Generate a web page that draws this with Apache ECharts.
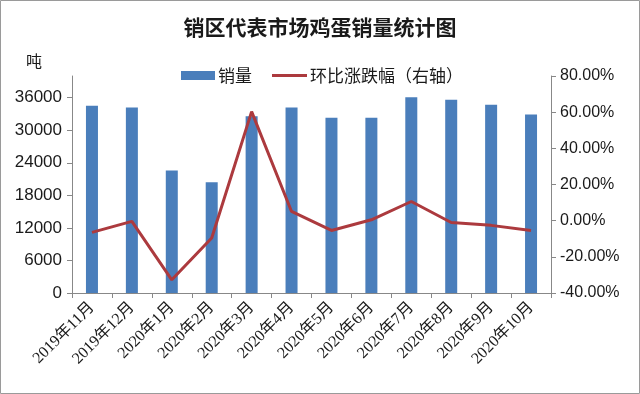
<!DOCTYPE html>
<html><head><meta charset="utf-8">
<script src="https://cdn.jsdelivr.net/npm/echarts@6/dist/echarts.min.js"></script>
<style>html,body{margin:0;padding:0;background:#fff}#c{width:640px;height:394px}</style>
</head><body><div id="c"></div>
<script>
const categories = ['2019年11月','2019年12月','2020年1月','2020年2月','2020年3月','2020年4月','2020年5月','2020年6月','2020年7月','2020年8月','2020年9月','2020年10月'];
const sales = [34500, 34200, 22600, 20400, 32600, 34200, 32300, 32300, 36100, 35600, 34700, 32900];
const changePct = [-6.5, -0.4, -32.7, -9.6, 60.3, 5.1, -5.4, 0.5, 10.6, -1.0, -2.6, -5.4];
const seriesNames = ['销量', '环比涨跌幅（右轴）'];
const titleText = '销区代表市场鸡蛋销量统计图';
const unitText = '吨';

const font = "'Liberation Sans', 'Noto Sans CJK SC', sans-serif";
const cjk = "'Noto Sans CJK SC', sans-serif";
const chart = echarts.init(document.getElementById('c'), null, {renderer: 'canvas'});
chart.setOption({
  animation: false,
  backgroundColor: '#fff',
  title: {text: titleText, left: 'center', top: 12, textStyle: {fontFamily: cjk, fontSize: 21, fontWeight: 'bold', color: '#1a1a1a'}},
  graphic: [
    {type: 'rect', shape: {x: 0.5, y: 0.5, width: 639, height: 393}, style: {fill: 'none', stroke: '#9a9a9a', lineWidth: 1}, silent: true},
    {type: 'text', left: 26, top: 53, style: {text: unitText, font: '16px ' + cjk, fill: '#1a1a1a'}}
  ],
  legend: [
    {data: [seriesNames[0]], left: 176, top: 62, icon: 'rect', itemWidth: 34, itemHeight: 9, itemGap: 4,
     textStyle: {fontFamily: cjk, fontSize: 17, color: '#1a1a1a', padding: [0, 0, 0, -2]}},
    {data: [seriesNames[1]], left: 267, top: 62, icon: 'rect', itemWidth: 35, itemHeight: 3,
     textStyle: {fontFamily: cjk, fontSize: 17, color: '#1a1a1a', padding: [0, 0, 0, -2]}}
  ],
  grid: {left: 72, right: 89, top: 76, bottom: 101},
  xAxis: {
    type: 'category', data: categories, boundaryGap: true,
    axisLine: {lineStyle: {color: '#888'}},
    axisTick: {show: true, alignWithLabel: false, length: 5, lineStyle: {color: '#888'}},
    axisLabel: {rotate: 45, interval: 0, fontFamily: "'Liberation Serif', 'Noto Sans CJK SC', serif", fontSize: 16, color: '#1a1a1a', margin: 12}
  },
  yAxis: [
    {type: 'value', min: 0, max: 40000, interval: 6000,
     axisLine: {show: true, lineStyle: {color: '#888'}},
     axisTick: {show: true, inside: false, length: 5, lineStyle: {color: '#888'}},
     splitLine: {show: false},
     axisLabel: {showMaxLabel: false, formatter: v => String(v), fontFamily: font, fontSize: 17, color: '#1a1a1a', margin: 10}},
    {type: 'value', min: -40, max: 80, interval: 20, position: 'right',
     axisLine: {show: true, lineStyle: {color: '#888'}},
     axisTick: {show: true, length: 5, lineStyle: {color: '#888'}},
     splitLine: {show: false},
     axisLabel: {formatter: v => v.toFixed(2) + '%', fontFamily: font, fontSize: 16, color: '#1a1a1a', margin: 9}}
  ],
  series: [
    {name: seriesNames[0], type: 'bar', data: sales, barWidth: 12, itemStyle: {color: '#4a7ebb'}},
    {name: seriesNames[1], type: 'line', yAxisIndex: 1, data: changePct, symbol: 'none',
     lineStyle: {color: '#ac3a3e', width: 3}, itemStyle: {color: '#ac3a3e'}}
  ]
});
</script></body></html>
